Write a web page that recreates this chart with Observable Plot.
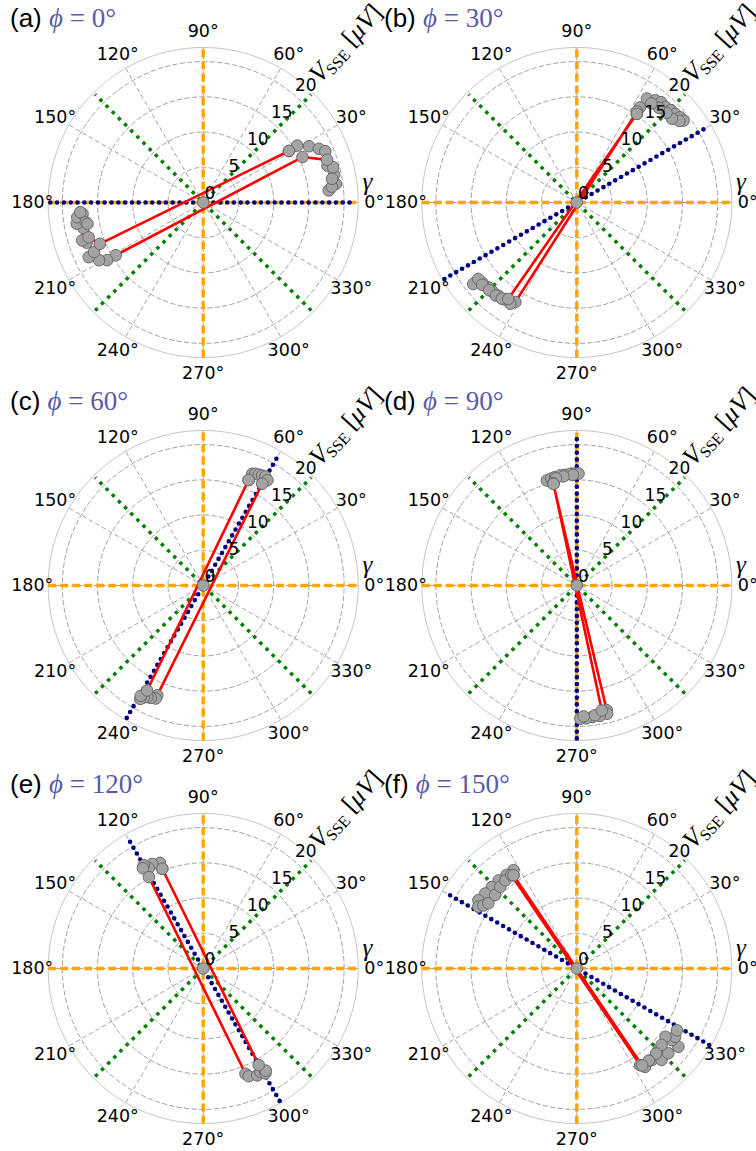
<!DOCTYPE html>
<html><head><meta charset="utf-8">
<script src="https://cdn.jsdelivr.net/npm/d3@7"></script>
<script src="https://cdn.jsdelivr.net/npm/@observablehq/plot@0.6"></script>
<style>
body{margin:0;background:#fff;}
#wrap{position:relative;width:756px;height:1151px;overflow:hidden;}
.panel{position:absolute;width:378px;height:383px;}
.panel svg{overflow:visible;background:transparent !important;}
</style></head><body><div id="wrap"></div>
<script>
// ---- data ----
const panelLabels = ["(a)", "(b)", "(c)", "(d)", "(e)", "(f)"];
const phiValues = [0, 30, 60, 90, 120, 150];

const gammaA = [31, 31.2, 28, 24.9, 22.8, 16.5, 12, 8, 5.5, 7, 10.4, 15.2, 19, 24.6, 211.1, 211, 209, 205.5, 204.4, 199, 197.4, 192, 189.5, 186.7, 185.3, 184.5, 189.5, 190.4, 196.9, 201.8, 31];
const vA     = [14.2, 15.6, 17, 18.1, 18.8, 18.4, 19, 19, 17.9, 18.4, 18.6, 19.1, 18.6, 15.5, 14.5, 15.9, 16.9, 18, 17, 17.5, 18, 17.4, 18.2, 18, 17.2, 17.5, 16.9, 16.7, 17, 15.8, 14.2];

const gammaB = [55.9, 56.4, 56, 52.5, 50, 47.2, 44.5, 42, 39.5, 37.5, 38.5, 41.4, 45, 49, 53, 56.5, 238.3, 236.7, 233, 229.9, 227, 223.8, 220.5, 218.2, 217.8, 221, 225, 229, 232, 234.6, 55.9];
const vB     = [15.2, 16.2, 17.8, 18.3, 18.6, 18.5, 18.7, 18.8, 19, 19.1, 18.6, 18, 18, 17.8, 17.6, 15.5, 16.6, 17.2, 17.2, 17.3, 17.4, 17.4, 17.6, 18.7, 17.7, 17.8, 17.6, 17.5, 17.3, 16.8, 15.2];

const gammaC = [66.7, 66.3, 65, 63.4, 61.8, 60.3, 58.6, 59.9, 247.3, 247.2, 245, 243.4, 242, 241, 240.5, 241.9, 66.7];
const vC     = [16.3, 17.3, 17.5, 17.6, 17.7, 17.8, 17.5, 16.7, 16.9, 17.4, 17.6, 17.7, 18, 18.4, 18, 16.9, 16.3];

const gammaD = [102.9, 105.9, 103.5, 101.3, 98.5, 96, 93, 91, 89.1, 92, 97, 101, 103, 283.5, 283.3, 280, 276.7, 274, 271.5, 273, 278, 281.3, 102.9];
const vD     = [14.8, 15.5, 15.6, 15.7, 15.8, 15.8, 15.9, 15.9, 15.9, 15.7, 15.6, 15.5, 14.9, 18.2, 18.7, 18.8, 18.8, 18.9, 18.9, 18.6, 18.6, 18.1, 14.8];

const gammaE = [112.3, 112.3, 116, 118.5, 119.9, 121, 120.7, 291.9, 292.9, 296.8, 299, 300.7, 301.5, 299.9, 112.3];
const vE     = [15.3, 16.2, 16.5, 16.2, 16.9, 16.6, 15.1, 16.1, 16.6, 17, 16.8, 17.3, 17, 15.8, 15.3];

const gammaF = [124.2, 122.8, 126.9, 131.6, 136.2, 140.7, 145.2, 147.9, 146, 143.6, 138, 133.1, 129, 125, 303.3, 304.8, 309.3, 312.8, 315, 317.2, 322.4, 323, 325.2, 328.3, 322.4, 318, 313, 308, 304, 124.2];
const vF     = [16, 16.6, 16.6, 16.7, 16.7, 16.8, 17, 16.5, 16, 15.6, 15.6, 15.9, 16.1, 16.2, 16.4, 17, 16.8, 17.7, 16.4, 17.7, 18.2, 16.9, 17, 16.7, 15.9, 16.2, 16.5, 16.6, 16.6, 16];

const originGamma = [0];
const originV = [0];

const gammaSeries = [gammaA, gammaB, gammaC, gammaD, gammaE, gammaF];
const vSeries = [vA, vB, vC, vD, vE, vF];

const thetaTicks = [0, 30, 60, 90, 120, 150, 180, 210, 240, 270, 300, 330];
const radialTicks = [0, 5, 10, 15, 20];
const gridRadii = [5, 10, 15, 20];
const orangeAngles = [0, 90];
const greenAngles = [45, 135];
const rMax = 22;

// ---- helpers ----
const rad = d => d * Math.PI / 180;
const px = (g, v) => v * Math.cos(rad(g));
const py = (g, v) => v * Math.sin(rad(g));

const circlePts = [];
for (const r of gridRadii) for (let a = 0; a <= 360; a += 2) circlePts.push({r, a});
const outerPts = [];
for (let a = 0; a <= 360; a += 1) outerPts.push({a});

const wrap = document.getElementById("wrap");

phiValues.forEach((phi, i) => {
  const col = i % 2, row = Math.floor(i / 2);
  const cx = col === 0 ? 202.7 : 198.3;
  const cy = 202;
  const R = 155;
  const pts = gammaSeries[i].map((g, k) => ({g, v: vSeries[i][k]}));
  const origin = originGamma.map((g, k) => ({g, v: originV[k]}));

  const plot = Plot.plot({
    width: 378, height: 383, margin: 0,
    style: {background: "transparent", overflow: "visible"},
    x: {domain: [-rMax, rMax], range: [cx - R, cx + R], axis: null},
    y: {domain: [-rMax, rMax], range: [cy + R, cy - R], axis: null},
    marks: [
      Plot.line(circlePts, {x: d => px(d.a, d.r), y: d => py(d.a, d.r), z: "r", stroke: "#8a8a8a", strokeWidth: 0.8, strokeDasharray: "4.5,3"}),
      Plot.link(thetaTicks, {x1: 0, y1: 0, x2: t => px(t, rMax), y2: t => py(t, rMax), stroke: "#8a8a8a", strokeWidth: 0.8, strokeDasharray: "4.5,3"}),
      Plot.line(outerPts, {x: d => px(d.a, rMax), y: d => py(d.a, rMax), stroke: "#c4c4c4", strokeWidth: 1}),
      Plot.link(orangeAngles, {x1: t => px(t + 180, rMax), y1: t => py(t + 180, rMax), x2: t => px(t, rMax), y2: t => py(t, rMax), stroke: "#FFA500", strokeWidth: 3.5, strokeDasharray: "8,4"}),
      Plot.link(greenAngles, {x1: t => px(t + 180, rMax - 0.3), y1: t => py(t + 180, rMax - 0.3), x2: t => px(t, rMax - 0.3), y2: t => py(t, rMax - 0.3), stroke: "#008000", strokeWidth: 3.5, strokeDasharray: "3.5,5.2"}),
      Plot.link([phi], {x1: t => px(t + 180, rMax - 0.3), y1: t => py(t + 180, rMax - 0.3), x2: t => px(t, rMax - 0.3), y2: t => py(t, rMax - 0.3), stroke: "#000080", strokeWidth: 4.6, strokeDasharray: "0,6.8", strokeLinecap: "round"}),
      Plot.line(pts, {x: d => px(d.g, d.v), y: d => py(d.g, d.v), stroke: "#ff0000", strokeWidth: 2.6}),
      Plot.dot(pts, {x: d => px(d.g, d.v), y: d => py(d.g, d.v), r: 5.8, fill: "#a3a3a3", stroke: "#6a6a6a", strokeWidth: 1}),
      Plot.dot(origin, {x: d => px(d.g, d.v), y: d => py(d.g, d.v), r: 5.8, fill: "#a3a3a3", stroke: "#6a6a6a", strokeWidth: 1}),
      Plot.text(thetaTicks, {x: t => px(t, 24.27), y: t => py(t, 24.27), text: t => t + "°", fontSize: 17.5, fontFamily: "DejaVu Sans", fill: "#000", textAnchor: "middle", lineAnchor: "middle"}),
      Plot.text(radialTicks, {x: v => v * 0.681 + 0.94, y: v => v * 0.767 + 1.32, text: v => String(v), fontSize: 17, fontFamily: "DejaVu Sans", fill: "#000", textAnchor: "middle", lineAnchor: "middle"}),
      Plot.text(["γ"], {x: () => 23.3, y: () => 2.9, text: d => d, fontSize: 25, fontFamily: "Liberation Serif", fontStyle: "italic", fill: "#000", textAnchor: "middle", lineAnchor: "middle"})
    ]
  });

  const sx = plot.scale("x"), sy = plot.scale("y");
  const svg = d3.select(plot);
  // radial axis label
  const lx = sx.apply(20.2), ly = sy.apply(22.6);
  const t = svg.append("text")
    .attr("transform", `translate(${lx},${ly}) rotate(-48)`)
    .attr("text-anchor", "middle").attr("dy", "0.35em")
    .attr("font-family", "Liberation Serif, DejaVu Serif, serif").attr("font-size", 26).attr("fill", "#000");
  t.append("tspan").attr("font-style", "italic").text("V");
  t.append("tspan").attr("font-size", 16).attr("dy", 4).attr("dx", -1).text("SSE");
  t.append("tspan").attr("dy", -4).text(" [");
  t.append("tspan").attr("font-style", "italic").text("μV");
  t.append("tspan").text("]");

  // panel title
  const tt = svg.append("text").attr("x", col === 0 ? 10 : 6).attr("y", 26.5).attr("text-anchor", "start");
  tt.append("tspan").attr("font-family", "Liberation Sans, Arial, sans-serif").attr("font-size", 26).attr("fill", "#000").text(panelLabels[i] + " ");
  tt.append("tspan").attr("font-family", "Liberation Serif, DejaVu Serif, serif").attr("font-size", 27).attr("font-style", "italic").attr("fill", "#5a5aac").text("ϕ");
  tt.append("tspan").attr("font-family", "Liberation Serif, DejaVu Serif, serif").attr("font-size", 27).attr("fill", "#5a5aac").text(" = " + phi + "°");

  const div = document.createElement("div");
  div.className = "panel";
  div.style.left = (col * 378) + "px";
  div.style.top = (row * 383) + "px";
  div.appendChild(plot);
  wrap.appendChild(div);
});
</script>
</body></html>
